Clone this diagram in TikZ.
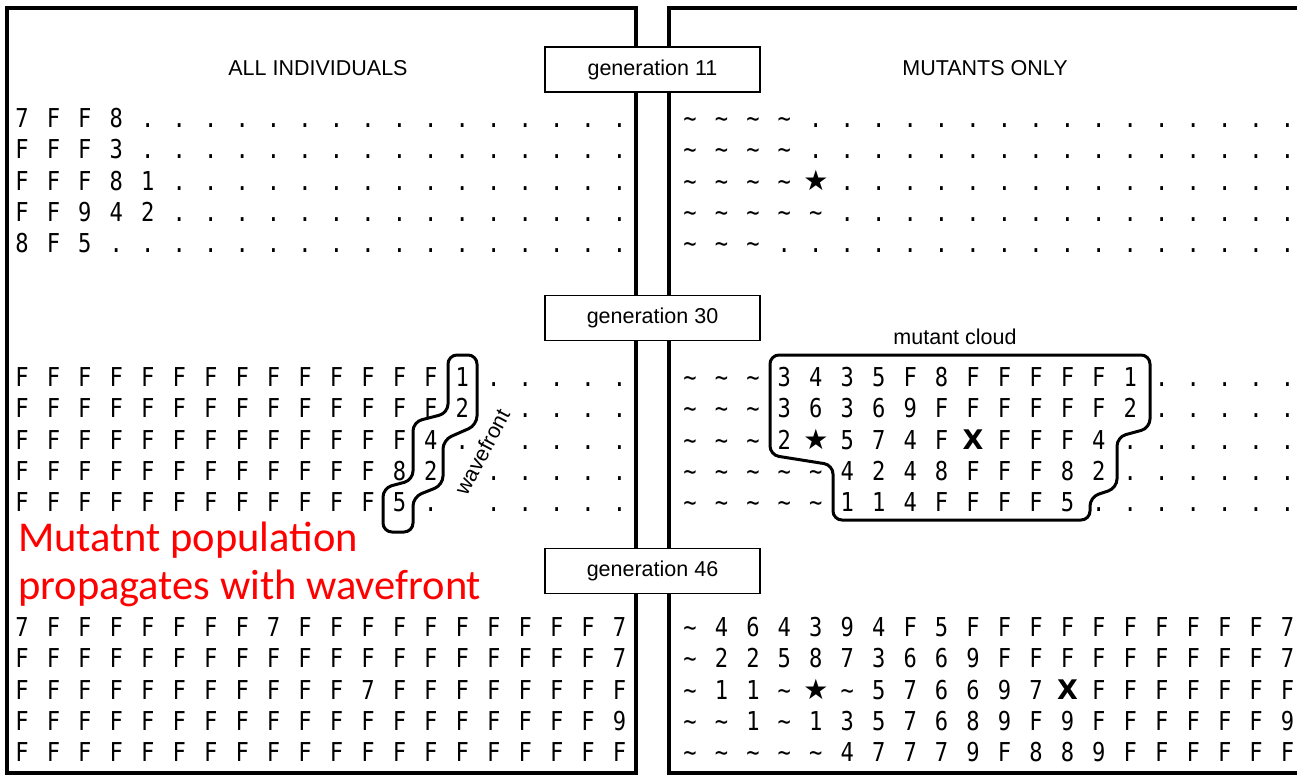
\documentclass[tikz,border=0pt]{standalone}
\usepackage{fontspec}
\setmainfont{Liberation Sans}
\newfontfamily\gridfont[FakeStretch=0.85]{DejaVu Sans Mono}
\newfontfamily\symfont{DejaVu Sans}
\newfontfamily\notefont{Carlito}
\newcommand\tld{\textasciitilde}
\newcommand\mstar{{\symfont\fontsize{28}{28}\selectfont ★}}
\newcommand\mx{{\symfont\bfseries\fontsize{27}{27}\selectfont X}}

\tikzset{
  cell/.style={anchor=base, inner sep=0pt, font=\gridfont\fontsize{26}{26}\selectfont},
  genbox/.style={draw, line width=1.8pt, fill=white, minimum width=215pt, minimum height=45pt, inner sep=0pt, font=\fontsize{21.5}{21.5}\selectfont},
  panel/.style={line width=3.6pt},
  blob/.style={line width=3pt, rounded corners=9pt},
  title/.style={inner sep=0pt, font=\fontsize{21.5}{21.5}\selectfont},
  note/.style={inner sep=0pt, red, anchor=base west, font=\notefont\fontsize{42.5}{42.5}\selectfont},
}

\begin{document}
\begin{tikzpicture}[x=1pt, y=-1pt]
\useasboundingbox (0,0) rectangle (1297,779);

	\def\d{31.45};
	\def\h{31.3};

	%draw panels
 \draw[panel] (7,8) rectangle (636,773);
 \draw[panel] (1310,8) -- (669,8) -- (669,773) -- (1310,773);

 \node[title] (allind) at (318,68) {ALL INDIVIDUALS};
 \node[title] (mutonly) at (985,68) {MUTANTS ONLY};

	%generation 11
 \def\dy{127.5};
 \def\dx{22};
    \foreach \row [count=\r] in {
        {7,F,F,8,.,.,.,.,.,.,.,.,.,.,.,.,.,.,.,.},
        {F,F,F,3,.,.,.,.,.,.,.,.,.,.,.,.,.,.,.,.},
        {F,F,F,8,1,.,.,.,.,.,.,.,.,.,.,.,.,.,.,.},
        {F,F,9,4,2,.,.,.,.,.,.,.,.,.,.,.,.,.,.,.},
        {8,F,5,.,.,.,.,.,.,.,.,.,.,.,.,.,.,.,.,.}}{
       \foreach \s [count=\c] in \row
           \node[cell] (l11-\r-\c) at (\dx + \c*\d - \d, \dy + \r*\h - \h) {\s};
    }

 \def\dx{690};
    \foreach \row [count=\r] in {
        {\tld,\tld,\tld,\tld,.,.,.,.,.,.,.,.,.,.,.,.,.,.,.,.},
        {\tld,\tld,\tld,\tld,.,.,.,.,.,.,.,.,.,.,.,.,.,.,.,.},
        {\tld,\tld,\tld,\tld,\mstar,.,.,.,.,.,.,.,.,.,.,.,.,.,.,.},
        {\tld,\tld,\tld,\tld,\tld,.,.,.,.,.,.,.,.,.,.,.,.,.,.,.},
        {\tld,\tld,\tld,.,.,.,.,.,.,.,.,.,.,.,.,.,.,.,.,.}}{
       \foreach \s [count=\c] in \row
           \node[cell] (r11-\r-\c) at (\dx + \c*\d - \d, \dy + \r*\h - \h) {\s};
    }

	%generation 30 (- = dot hidden by the wavefront label)
 \def\dy{386.5};
 \def\dx{22};
    \foreach \row [count=\r] in {
        {F,F,F,F,F,F,F,F,F,F,F,F,F,F,1,.,.,.,.,.},
        {F,F,F,F,F,F,F,F,F,F,F,F,F,F,2,-,.,.,.,.},
        {F,F,F,F,F,F,F,F,F,F,F,F,F,4,.,-,.,.,.,.},
        {F,F,F,F,F,F,F,F,F,F,F,F,8,2,-,.,.,.,.,.},
        {F,F,F,F,F,F,F,F,F,F,F,F,5,.,-,.,.,.,.,.}}{
       \foreach \s [count=\c] in \row {
           \if-\s\else
           \node[cell] (l30-\r-\c) at (\dx + \c*\d - \d, \dy + \r*\h - \h) {\s};
           \fi
       }
    }

 \def\dx{690};
    \foreach \row [count=\r] in {
        {\tld,\tld,\tld,3,4,3,5,F,8,F,F,F,F,F,1,.,.,.,.,.},
        {\tld,\tld,\tld,3,6,3,6,9,F,F,F,F,F,F,2,.,.,.,.,.},
        {\tld,\tld,\tld,2,\mstar,5,7,4,F,\mx,F,F,F,4,.,.,.,.,.,.},
        {\tld,\tld,\tld,\tld,\tld,4,2,4,8,F,F,F,8,2,.,.,.,.,.,.},
        {\tld,\tld,\tld,\tld,\tld,1,1,4,F,F,F,F,5,.,.,.,.,.,.,.}}{
       \foreach \s [count=\c] in \row
           \node[cell] (r30-\r-\c) at (\dx + \c*\d - \d, \dy + \r*\h - \h) {\s};
    }

	%generation 46
 \def\dy{636.5};
 \def\dx{22};
    \foreach \row [count=\r] in {
        {7,F,F,F,F,F,F,F,7,F,F,F,F,F,F,F,F,F,F,7},
        {F,F,F,F,F,F,F,F,F,F,F,F,F,F,F,F,F,F,F,7},
        {F,F,F,F,F,F,F,F,F,F,F,7,F,F,F,F,F,F,F,F},
        {F,F,F,F,F,F,F,F,F,F,F,F,F,F,F,F,F,F,F,9},
        {F,F,F,F,F,F,F,F,F,F,F,F,F,F,F,F,F,F,F,F}}{
       \foreach \s [count=\c] in \row
           \node[cell] (l46-\r-\c) at (\dx + \c*\d - \d, \dy + \r*\h - \h) {\s};
    }

 \def\dx{690};
    \foreach \row [count=\r] in {
        {\tld,4,6,4,3,9,4,F,5,F,F,F,F,F,F,F,F,F,F,7},
        {\tld,2,2,5,8,7,3,6,6,9,F,F,F,F,F,F,F,F,F,7},
        {\tld,1,1,\tld,\mstar,\tld,5,7,6,6,9,7,\mx,F,F,F,F,F,F,F},
        {\tld,\tld,1,\tld,1,3,5,7,6,8,9,F,9,F,F,F,F,F,F,9},
        {\tld,\tld,\tld,\tld,\tld,4,7,7,7,9,F,8,8,9,F,F,F,F,F,F}}{
       \foreach \s [count=\c] in \row
           \node[cell] (r46-\r-\c) at (\dx + \c*\d - \d, \dy + \r*\h - \h) {\s};
    }

	%outlines
 \draw[blob] (448,355) -- (477,355) -- (477,425) -- (443,440) -- (443,485) -- (413,497)
    -- (413,532) -- (383,532) -- (383,488) -- (413,480) -- (413,422) -- (448,413) -- cycle;
 \node[title, rotate=62] (wave) at (482,452) {wavefront};

 \draw[blob] (770,355) -- (1150,355) -- (1150,428) -- (1117,437) -- (1117,488) -- (1090,497)
    -- (1090,520) -- (833,520) -- (833,465) -- (770,455) -- cycle;
 \node[title] (cloud) at (955,337) {mutant cloud};

	%generation labels
 \node[genbox] (gen11) at (652.5,69.5) {generation 11};
 \node[genbox] (gen30) at (652.5,318) {generation 30};
 \node[genbox] (gen46) at (652.5,571) {generation 46};

 \node[note] (note1) at (18,551) {Mutatnt population};
 \node[note] (note2) at (18,599) {propagates with wavefront};

\end{tikzpicture}
\end{document}
